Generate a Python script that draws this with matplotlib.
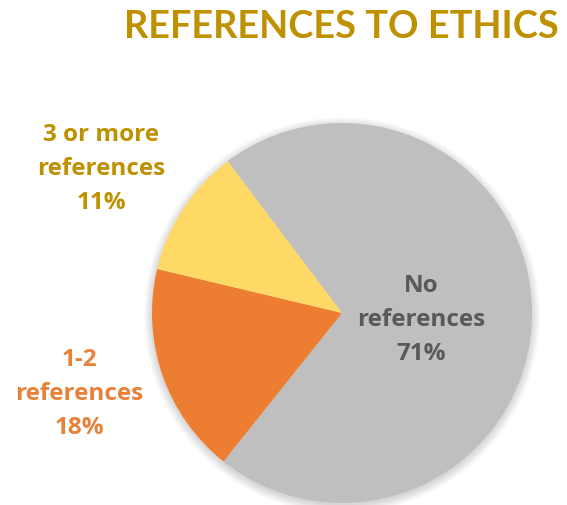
import matplotlib
matplotlib.use("Agg")
import matplotlib.pyplot as plt
from matplotlib.patches import Circle

categories = ["No references", "1-2 references", "3 or more references"]
label_lines = ["No\nreferences", "1-2\nreferences", "3 or more\nreferences"]
shares = [71, 18, 11]
slice_colors = ["#BFBFBF", "#ED7D31", "#FFD966"]
label_colors = ["#595959", "#E8823A", "#BF9000"]
title = "REFERENCES TO ETHICS"

W, H = 567, 505
fig = plt.figure(figsize=(W / 100, H / 100), dpi=100)
plt.rcParams["font.family"] = ["Lato", "DejaVu Sans"]

# Pie axes: centre at (342, 313) px from top-left, radius 190 px
cx, cy, r = 342, 313, 190
pad = 12
ax = fig.add_axes([(cx - r - pad) / W, (H - cy - r - pad) / H,
                   2 * (r + pad) / W, 2 * (r + pad) / H])
lim = (r + pad) / r
ax.set_xlim(-lim, lim)
ax.set_ylim(-lim, lim)
ax.set_aspect("equal")
ax.axis("off")

# soft drop shadow under the pie
for i in range(8):
    ax.add_patch(Circle((0, -0.012), 1.0 + 0.006 * i, color="black",
                        alpha=0.018, linewidth=0, zorder=0))

ax.pie(shares, colors=slice_colors, startangle=127, counterclock=False,
       radius=1.0, wedgeprops=dict(linewidth=0, zorder=2))
ax.set_xlim(-lim, lim)
ax.set_ylim(-lim, lim)

fig.text(341 / W, 1 - 27 / H, title, ha="center", va="center",
         fontsize=27.3, fontweight="bold", color="#BF9000")

# Data labels (pixel positions of text centres)
label_pos = [(421, 320), (79, 394), (101, 169)]
for (x, y), lbl, val, col in zip(label_pos, label_lines, shares, label_colors):
    fig.text(x / W, 1 - y / H, f"{lbl}\n{val}%", ha="center", va="center",
             fontsize=17.5, fontweight="bold", color=col, linespacing=1.55,
             family=["Open Sans", "DejaVu Sans"])

fig.savefig("out.png", dpi=100, facecolor="white")
